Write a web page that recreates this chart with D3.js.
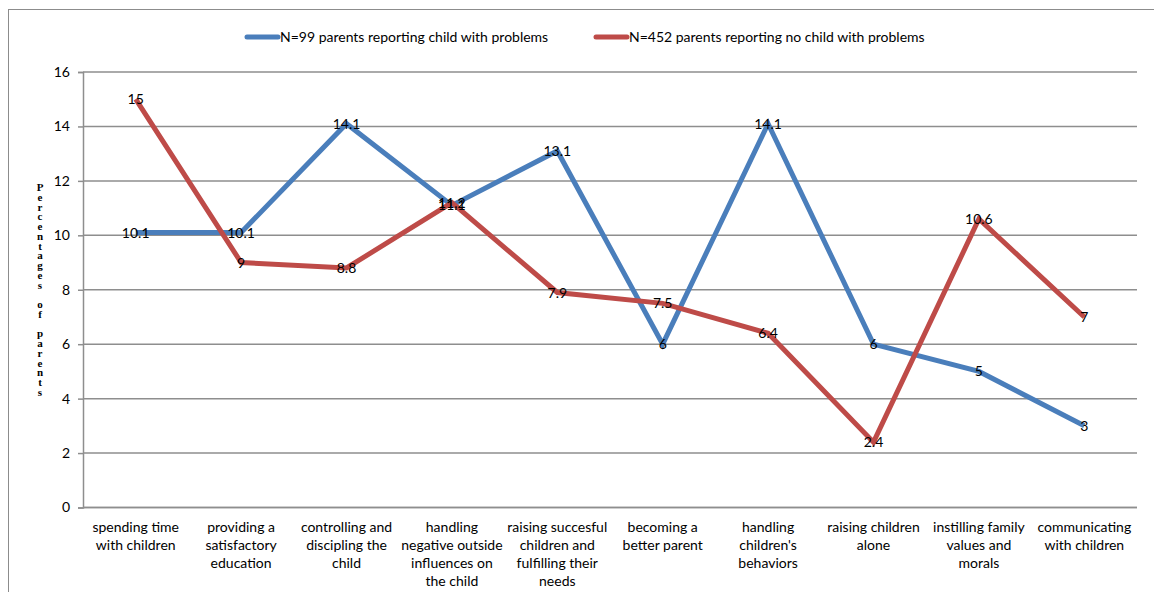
<!DOCTYPE html>
<html>
<head>
<meta charset="utf-8">
<script src="https://cdn.jsdelivr.net/npm/d3@7"></script>
<style>
  html, body { margin: 0; padding: 0; background: #fff; }
  svg { display: block; }
</style>
</head>
<body>
<svg id="chart" width="1154" height="592"></svg>
<script>
// ---- data ----
const categories = [
  ["spending time", "with children"],
  ["providing a", "satisfactory", "education"],
  ["controlling and", "discipling the", "child"],
  ["handling", "negative outside", "influences on", "the child"],
  ["raising succesful", "children and", "fulfilling their", "needs"],
  ["becoming a", "better parent"],
  ["handling", "children's", "behaviors"],
  ["raising children", "alone"],
  ["instilling family", "values and", "morals"],
  ["communicating", "with children"]
];
const seriesNames = [
  "N=99 parents reporting child with problems",
  "N=452 parents reporting no child with problems"
];
const problemsValues = [10.1, 10.1, 14.1, 11.1, 13.1, 6, 14.1, 6, 5, 3];
const noProblemsValues = [15, 9, 8.8, 11.2, 7.9, 7.5, 6.4, 2.4, 10.6, 7];
const yTicks = [0, 2, 4, 6, 8, 10, 12, 14, 16];
const yTitle = "Percentages of parents";

(function () {
// ---- layout ----
const svg = d3.select("#chart");
const pLeft = 83, pRight = 1137, pTop = 72, pBottom = 507.5;
const colors = ["#4a7ebb", "#be4b48"];
const font = "Lato, 'Open Sans', sans-serif";
const fs = 14;

// outer border
svg.append("rect")
  .attr("x", 8.5).attr("y", 9.5)
  .attr("width", 1160).attr("height", 600)
  .attr("fill", "none").attr("stroke", "#8c8c8c").attr("stroke-width", 1);

const x = d3.scaleBand().domain(d3.range(categories.length)).range([pLeft, pRight]);
const y = d3.scaleLinear().domain([0, 16]).range([pBottom, pTop]);

// gridlines
svg.append("g").selectAll("line").data(yTicks).join("line")
  .attr("x1", pLeft).attr("x2", pRight)
  .attr("y1", d => y(d)).attr("y2", d => y(d))
  .attr("stroke", "#8e8e8e").attr("stroke-width", 1.5);

// y axis
const yAxis = svg.append("g").attr("transform", `translate(${pLeft},0)`)
  .call(d3.axisLeft(y).tickValues(yTicks).tickSize(5).tickPadding(8));
yAxis.select(".domain").attr("stroke", "#8e8e8e").attr("stroke-width", 1.5);
yAxis.selectAll(".tick line").attr("stroke", "#8e8e8e").attr("stroke-width", 1.5);
yAxis.selectAll(".tick text").attr("font-family", font).attr("font-size", fs).attr("fill", "#000");

// x axis line
svg.append("line").attr("x1", pLeft).attr("x2", pRight).attr("y1", pBottom).attr("y2", pBottom)
  .attr("stroke", "#8e8e8e").attr("stroke-width", 1.5);

// category labels
const catG = svg.append("g");
categories.forEach((lines, i) => {
  const cx = x(i) + x.bandwidth() / 2;
  const t = catG.append("text")
    .attr("x", cx)
    .attr("y", 532)
    .attr("text-anchor", "middle")
    .attr("font-family", font).attr("font-size", fs).attr("fill", "#000");
  lines.forEach((ln, j) => {
    t.append("tspan").attr("x", cx).attr("dy", j === 0 ? 0 : 18).text(ln);
  });
});

// y title stacked letters
const titleG = svg.append("text")
  .attr("font-family", "'Liberation Serif', 'DejaVu Serif', serif")
  .attr("font-weight", "bold").attr("font-size", 11)
  .attr("text-anchor", "middle").attr("fill", "#000");
yTitle.split("").forEach((ch, i) => {
  titleG.append("tspan").attr("x", 40).attr("y", 191 + i * 9.76).text(ch === " " ? "\u00a0" : ch);
});

// lines
const line = d3.line().x((d, i) => x(i) + x.bandwidth() / 2).y(d => y(d));
[problemsValues, noProblemsValues].forEach((vals, s) => {
  svg.append("path").datum(vals)
    .attr("d", line)
    .attr("fill", "none")
    .attr("stroke", colors[s])
    .attr("stroke-width", 5)
    .attr("stroke-linejoin", "miter");
});

// data labels
[problemsValues, noProblemsValues].forEach((vals, s) => {
  svg.append("g").selectAll("text").data(vals).join("text")
    .attr("x", (d, i) => x(i) + x.bandwidth() / 2)
    .attr("y", d => y(d))
    .attr("dy", "0.36em")
    .attr("text-anchor", "middle")
    .attr("font-family", font).attr("font-size", fs).attr("fill", "#000")
    .text(d => d);
});

// legend
const legend = [
  { x1: 247, x2: 278, tx: 280 },
  { x1: 596, x2: 627, tx: 629 }
];
legend.forEach((l, s) => {
  svg.append("line").attr("x1", l.x1).attr("x2", l.x2).attr("y1", 37).attr("y2", 37)
    .attr("stroke", colors[s]).attr("stroke-width", 5).attr("stroke-linecap", "round");
  svg.append("text").attr("x", l.tx).attr("y", 37).attr("dy", "0.36em")
    .attr("font-family", font).attr("font-size", fs).attr("fill", "#000")
    .text(seriesNames[s]);
});
})();
</script>
</body>
</html>
